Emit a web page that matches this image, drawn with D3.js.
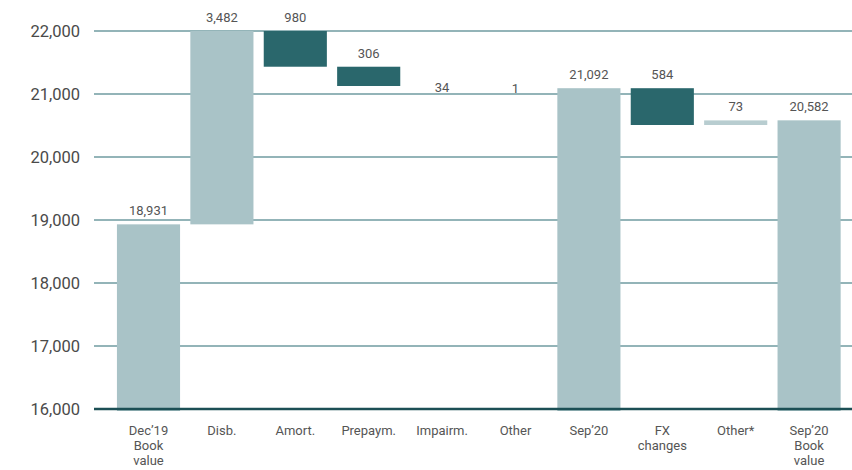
<!DOCTYPE html>
<html><head><meta charset="utf-8">
<script src="https://cdn.jsdelivr.net/npm/d3@7"></script>
<style>body{margin:0;background:#fff}svg{display:block}</style>
</head><body>
<svg id="c" width="852" height="470"></svg>
<script>
const categories = [["Dec’19","Book","value"],["Disb."],["Amort."],["Prepaym."],["Impairm."],["Other"],["Sep’20"],["FX","changes"],["Other*"],["Sep’20","Book","value"]];
const kinds = ["total","up","down","down","down","down","total","down","up","total"];
const values = [18931, 3482, 980, 306, 34, 1, 21092, 584, 73, 20582];
const labels = ["18,931","3,482","980","306","34","1","21,092","584","73","20,582"];
const yTicks = [16000,17000,18000,19000,20000,21000,22000];

const svg = d3.select("#c");
const y = d3.scaleLinear().domain([16000,22000]).range([409,31]);
const x = d3.scaleBand().domain(d3.range(categories.length)).range([111.8,845.8]).paddingInner(0.14).paddingOuter(0.07);

let run = 0;
const bars = values.map((v,i)=>{
  let lo, hi;
  if (kinds[i]==="total"){ lo=16000; hi=v; run=v; }
  else if (kinds[i]==="up"){ lo=run; hi=run+v; run=hi; }
  else { hi=run; lo=run-v; run=lo; }
  return {i, lo, hi, kind:kinds[i]};
});

svg.append("g").selectAll("line").data(yTicks.filter(t=>t>16000)).join("line")
  .attr("x1",94).attr("x2",852).attr("y1",d=>y(d)).attr("y2",d=>y(d))
  .attr("stroke","#6f9ba1").attr("stroke-width",1.6);

svg.append("g").selectAll("text").data(yTicks).join("text")
  .attr("x",80).attr("y",d=>y(d)+5.5).attr("text-anchor","end")
  .attr("font-family","Roboto, sans-serif").attr("font-size",16.5).attr("fill","#4a4a4a")
  .text(d=>d3.format(",")(d));

svg.append("defs").append("clipPath").attr("id","pc").append("rect")
  .attr("x",94).attr("y",y(22000)).attr("width",760).attr("height",y(16000)-y(22000)+3);

const colUp="#a9c3c7", colDown="#2a676c";
const bw = x.bandwidth();
const visible = bars.filter(d=>y(d.lo)-y(d.hi)>=3);
svg.append("g").attr("clip-path","url(#pc)").selectAll("rect").data(visible).join("rect")
  .attr("x",d=>x(d.i)).attr("width",bw)
  .attr("y",d=>y(d.hi)).attr("height",d=>y(d.lo)-y(d.hi)+(d.kind==="total"?2:0))
  .attr("fill",d=>d.kind==="down"?colDown:(d.i===8?"#b8cdd0":colUp));

svg.append("line").attr("x1",94).attr("x2",852).attr("y1",y(16000)).attr("y2",y(16000))
  .attr("stroke","#1c4f55").attr("stroke-width",2.4);

svg.append("g").selectAll("text").data(bars).join("text")
  .attr("x",d=>x(d.i)+bw/2)
  .attr("y",d=>{
    const top=y(Math.min(d.hi,22000)), bot=y(d.lo);
    if (bot-top<3) return (top+bot)/2+4.5;
    return top-9;
  })
  .attr("text-anchor","middle").attr("font-family","Roboto, sans-serif").attr("font-size",13)
  .attr("fill","#555").text(d=>labels[d.i]);

const cg = svg.append("g").selectAll("text").data(categories).join("text")
  .attr("x",(d,i)=>x(i)+bw/2).attr("y",435).attr("text-anchor","middle")
  .attr("font-family","Roboto, sans-serif").attr("font-size",13).attr("fill","#555");
cg.selectAll("tspan").data(d=>d).join("tspan")
  .attr("x",function(){return this.parentNode.getAttribute("x");})
  .attr("dy",(d,j)=>j===0?0:15).text(d=>d);
</script>
</body></html>
